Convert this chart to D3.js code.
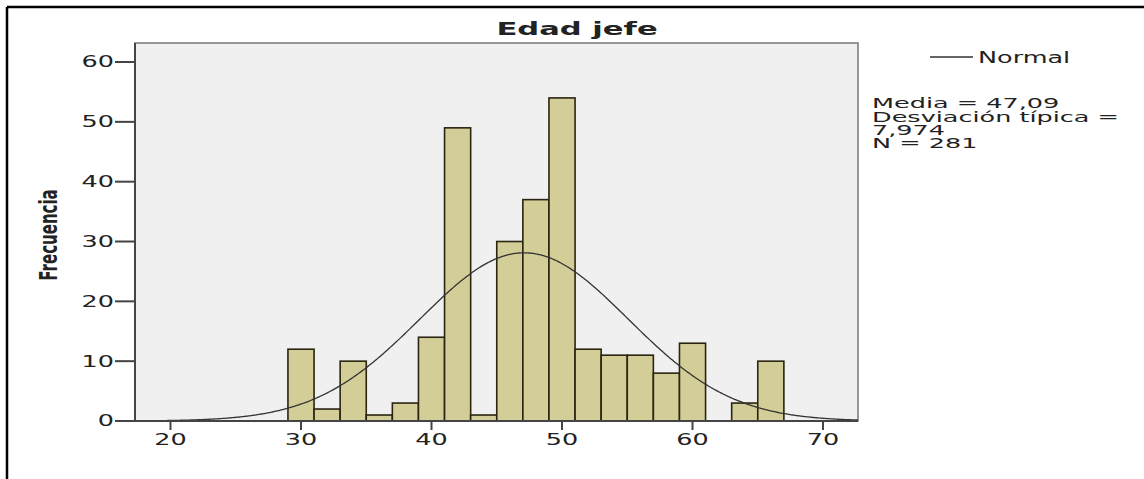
<!DOCTYPE html>
<html>
<head>
<meta charset="utf-8">
<script src="https://cdn.jsdelivr.net/npm/d3@7"></script>
<style>
  html, body { margin: 0; padding: 0; background: #fff; }
  svg { display: block; }
  text { font-family: "DejaVu Sans", Verdana, sans-serif; fill: #222; }
</style>
</head>
<body>
<svg id="chart" width="1144" height="479"></svg>
<script>
// ---- data ----
const binStarts = [29, 31, 33, 35, 37, 39, 41, 43, 45, 47, 49, 51, 53, 55, 57, 59, 61, 63, 65];
const counts    = [12,  2, 10,  1,  3, 14, 49,  1, 30, 37, 54, 12, 11, 11,  8, 13,  0,  3, 10];
const binWidth = 2;
const xTicks = [20, 30, 40, 50, 60, 70];
const yTicks = [0, 10, 20, 30, 40, 50, 60];
const title = "Edad jefe";
const yLabel = "Frecuencia";
const legendLabel = "Normal";
const statsLines = ["Media = 47,09", "Desviación típica =", "7,974", "N = 281"];
const mean = 47.09, sd = 7.974, n = 281;

// ---- layout ----
const SX = 1.7; // horizontal text stretch seen in the reference
const plot = { left: 135, right: 858, top: 43, bottom: 421 };
const svg = d3.select("#chart");

const x = d3.scaleLinear().domain([17.28, 72.68]).range([plot.left, plot.right]);
const y = d3.scaleLinear().domain([0, 63.18]).range([plot.bottom, plot.top]);

function stretchedText(parent, px, py, str, opts = {}) {
  const g = parent.append("g")
    .attr("transform", `translate(${px},${py}) scale(${opts.sx || SX},1)` + (opts.rotate ? ` rotate(${opts.rotate})` : ""));
  const t = g.append("text")
    .attr("text-anchor", opts.anchor || "start")
    .style("font-size", (opts.size || 15) + "px")
    .style("font-weight", opts.weight || "normal")
    .text(str);
  if (opts.dy) t.attr("dy", opts.dy);
  return t;
}

// outer frame (top and left edges)
svg.append("line").attr("x1", 7).attr("x2", 1144).attr("y1", 7).attr("y2", 7)
  .attr("stroke", "#000").attr("stroke-width", 2.5);
svg.append("line").attr("x1", 7).attr("x2", 7).attr("y1", 7).attr("y2", 479)
  .attr("stroke", "#000").attr("stroke-width", 2.5);

// plot background
svg.append("rect")
  .attr("x", plot.left).attr("y", plot.top)
  .attr("width", plot.right - plot.left).attr("height", plot.bottom - plot.top)
  .attr("fill", "#f0f0f0").attr("stroke", "#777").attr("stroke-width", 1.5);

// bars
svg.append("g").selectAll("rect")
  .data(binStarts.map((s, i) => ({ s, c: counts[i] })).filter(d => d.c > 0))
  .join("rect")
  .attr("x", d => x(d.s))
  .attr("width", d => x(d.s + binWidth) - x(d.s))
  .attr("y", d => y(d.c))
  .attr("height", d => y(0) - y(d.c))
  .attr("fill", "#d3ce97")
  .attr("stroke", "#2a2410")
  .attr("stroke-width", 1.6);

// normal curve
const curvePts = d3.range(x.domain()[0], x.domain()[1] + 0.001, 0.1).map(v => [v,
  n * binWidth * Math.exp(-0.5 * ((v - mean) / sd) ** 2) / (sd * Math.sqrt(2 * Math.PI))]);
svg.append("path")
  .datum(curvePts)
  .attr("fill", "none")
  .attr("stroke", "#333")
  .attr("stroke-width", 1.3)
  .attr("d", d3.line().x(d => x(d[0])).y(d => y(d[1])).curve(d3.curveBasis));

// axes lines
svg.append("line").attr("x1", plot.left).attr("x2", plot.left)
  .attr("y1", plot.top).attr("y2", plot.bottom + 1)
  .attr("stroke", "#444").attr("stroke-width", 2);
svg.append("line").attr("x1", plot.left).attr("x2", plot.right)
  .attr("y1", plot.bottom).attr("y2", plot.bottom)
  .attr("stroke", "#444").attr("stroke-width", 2);

// y ticks
const yAxisG = svg.append("g");
yTicks.forEach(v => {
  yAxisG.append("line").attr("x1", plot.left - 20).attr("x2", plot.left)
    .attr("y1", y(v)).attr("y2", y(v)).attr("stroke", "#444").attr("stroke-width", 2);
  stretchedText(yAxisG, plot.left - 21, y(v), d3.format("d")(v), { anchor: "end", size: 15, dy: "0.36em" });
});

// x ticks
const xAxisG = svg.append("g");
xTicks.forEach(v => {
  xAxisG.append("line").attr("x1", x(v)).attr("x2", x(v))
    .attr("y1", plot.bottom).attr("y2", plot.bottom + 9).attr("stroke", "#444").attr("stroke-width", 2);
  stretchedText(xAxisG, x(v), 445, d3.format("d")(v), { anchor: "middle", size: 15 });
});

// title
stretchedText(svg, 577, 35, title, { anchor: "middle", size: 18, weight: "bold" });

// y label
stretchedText(svg, 57, 235, yLabel, { anchor: "middle", size: 15, weight: "bold", rotate: -90 });

// legend
svg.append("line").attr("x1", 930).attr("x2", 973).attr("y1", 57).attr("y2", 57)
  .attr("stroke", "#333").attr("stroke-width", 1.3);
stretchedText(svg, 978, 63, legendLabel, { size: 15 });

const statBaselines = [108, 121.5, 135, 148];
statsLines.forEach((s, i) => stretchedText(svg, 872, statBaselines[i], s, { size: 14.5, sx: 1.76 }));
</script>
</body>
</html>
